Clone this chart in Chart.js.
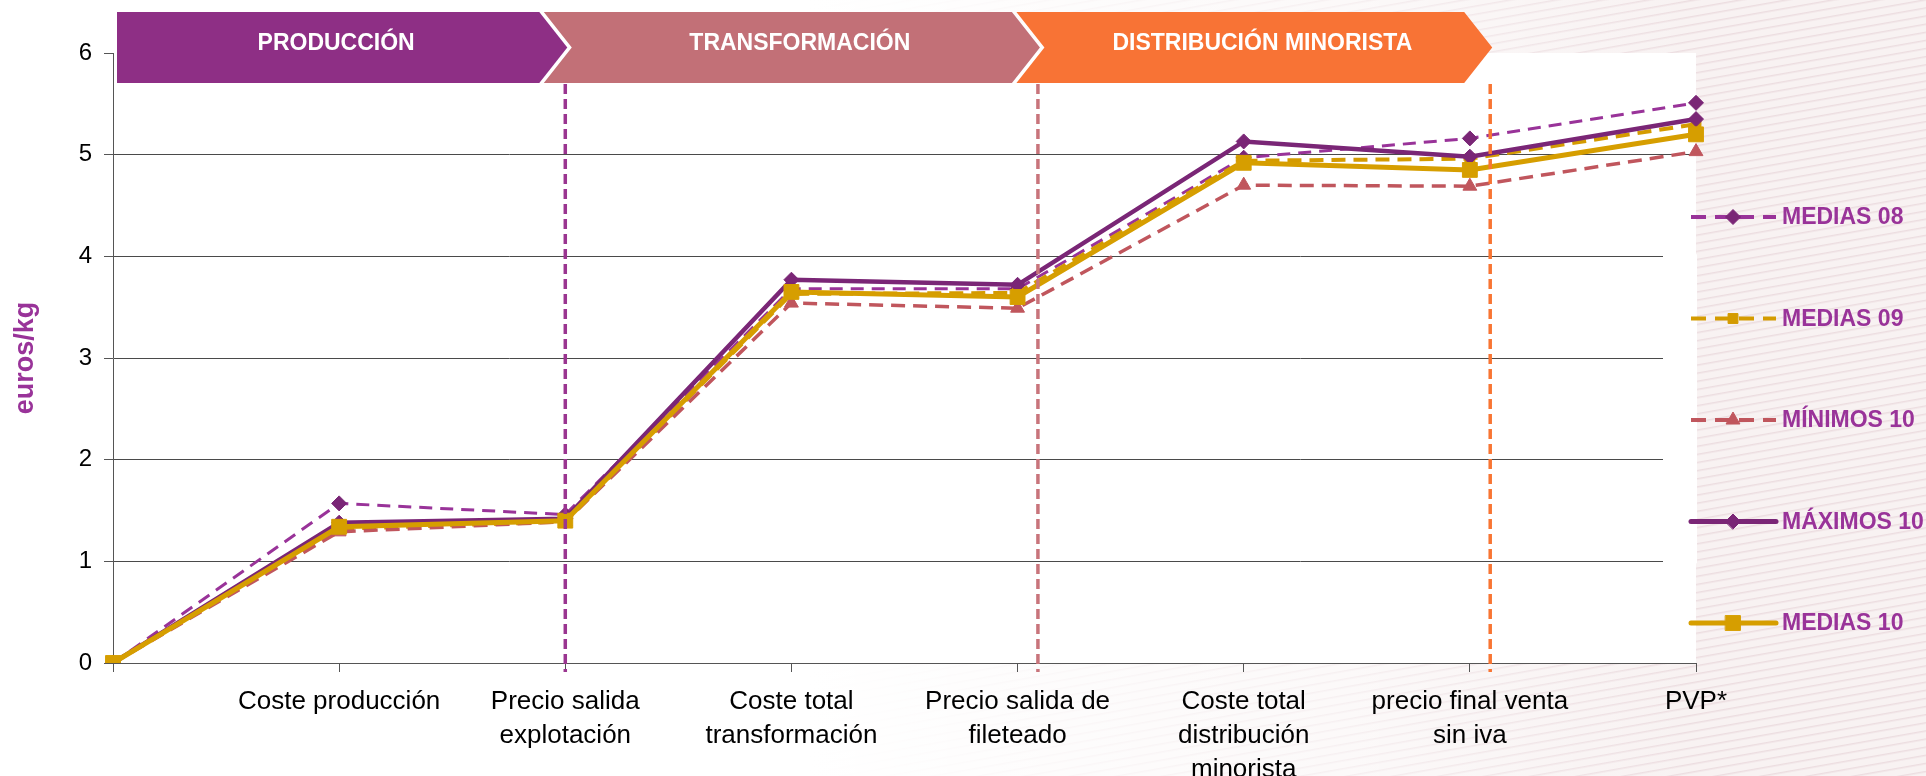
<!DOCTYPE html>
<html lang="es">
<head>
<meta charset="utf-8">
<title>Costes y precios - euros/kg</title>
<script src="https://cdn.jsdelivr.net/npm/chart.js@4.4.1/dist/chart.umd.min.js"></script>
<style>
  html, body { margin: 0; padding: 0; }
  body {
    width: 1926px;
    height: 776px;
    overflow: hidden;
    background:
      linear-gradient(90deg, #ffffff 0%, #ffffff 42%, rgba(255,255,255,0.55) 70%, rgba(255,255,255,0) 88%),
      repeating-linear-gradient(170deg, #f8f2f2 0px, #f8f2f2 5px, #ecdde0 6px, #f8f2f2 8px);
  }
  #contenedor { position: relative; width: 1926px; height: 776px; }
</style>
</head>
<body>
<div id="contenedor"><canvas id="grafico" width="1926" height="776"></canvas></div>
<script>
// Eslabones de la cadena (eje X)
const etiquetas = [
    '',
    'Coste producción',
    ['Precio salida', 'explotación'],
    ['Coste total', 'transformación'],
    ['Precio salida de', 'fileteado'],
    ['Coste total', 'distribución', 'minorista'],
    ['precio final venta', 'sin iva'],
    'PVP*'
];

// Series (euros/kg)
const medias08  = [0, 1.57, 1.46, 3.68, 3.68, 4.97, 5.16, 5.51];
const medias09  = [0, 1.32, 1.39, 3.63, 3.64, 4.94, 4.96, 5.30];
const minimos10 = [0, 1.29, 1.39, 3.54, 3.49, 4.70, 4.69, 5.03];
const maximos10 = [0, 1.38, 1.42, 3.77, 3.72, 5.13, 4.98, 5.35];
const medias10  = [0, 1.34, 1.40, 3.65, 3.60, 4.92, 4.85, 5.20];

const nombresSeries = ['MEDIAS 08', 'MEDIAS 09', 'MÍNIMOS 10', 'MÁXIMOS 10', 'MEDIAS 10'];

// Etapas de la cadena y donde terminan (posición en el eje de categorías)
const etapas = ['PRODUCCIÓN', 'TRANSFORMACIÓN', 'DISTRIBUCIÓN MINORISTA'];
const finEtapas = [2, 4.09, 6.09];
const coloresEtapas = ['#8e2f85', '#c27077', '#f87335'];
const coloresDivisores = ['#9a3590', '#c8747b', '#f87533'];

const FUENTE = '"Liberation Sans", Arial, Helvetica, sans-serif';
Chart.defaults.font.family = FUENTE;

const pluginEtapas = {
    id: 'etapas',
    beforeDraw(chart) {
        const { ctx, chartArea } = chart;
        ctx.save();
        ctx.fillStyle = '#ffffff';
        ctx.fillRect(chartArea.left, chartArea.top, chartArea.right - chartArea.left, chartArea.bottom - chartArea.top);
        ctx.restore();
    },
    beforeDatasetsDraw(chart) {
        // las lineas de division 1-4 no llegan al borde derecho
        const { ctx, chartArea, scales: { y } } = chart;
        const y4 = y.getPixelForValue(4);
        const y1 = y.getPixelForValue(1);
        ctx.save();
        ctx.fillStyle = '#ffffff';
        ctx.fillRect(chartArea.right - 33, y4 - 2, 34, y1 - y4 + 4);
        ctx.restore();
    },
    afterDatasetsDraw(chart) {
        const { ctx, chartArea, scales: { x } } = chart;
        finEtapas.forEach((v, i) => {
            const px = x.getPixelForValue(v);
            ctx.save();
            ctx.strokeStyle = coloresDivisores[i];
            ctx.lineWidth = 3.5;
            ctx.setLineDash([10, 5]);
            ctx.beginPath();
            ctx.moveTo(px, chartArea.top + 31);
            ctx.lineTo(px, chartArea.bottom + 9);
            ctx.stroke();
            ctx.restore();
        });
    },
    afterDraw(chart) {
        const { ctx, chartArea, scales: { x } } = chart;

        // cabecera con las etapas
        const top = chartArea.top - 41;
        const bottom = chartArea.top + 30;
        const mid = (top + bottom) / 2;
        const fondo = 28, hueco = 4.5;
        let puntaAnterior = null;
        etapas.forEach((nombre, i) => {
            const punta = x.getPixelForValue(finEtapas[i]) + 2;
            const izq = puntaAnterior === null ? chartArea.left + 4 : puntaAnterior - fondo + hueco;
            ctx.save();
            ctx.beginPath();
            ctx.moveTo(izq, top);
            ctx.lineTo(punta - fondo, top);
            ctx.lineTo(punta, mid);
            ctx.lineTo(punta - fondo, bottom);
            ctx.lineTo(izq, bottom);
            if (puntaAnterior !== null) ctx.lineTo(puntaAnterior + hueco, mid);
            ctx.closePath();
            ctx.fillStyle = coloresEtapas[i];
            ctx.fill();

            const inicio = puntaAnterior === null ? izq : puntaAnterior + hueco;
            ctx.fillStyle = '#ffffff';
            ctx.font = 'bold 23px ' + FUENTE;
            ctx.textAlign = 'center';
            ctx.textBaseline = 'middle';
            ctx.fillText(nombre, (inicio + punta) / 2 - 6, mid - 4);
            ctx.restore();
            puntaAnterior = punta;
        });

        // leyenda a la derecha
        chart.data.datasets.forEach((ds, i) => {
            const yl = chartArea.top + 164 + i * 101.5;
            const x0 = chartArea.right - 5;
            const x1 = chartArea.right + 80;
            const xm = chartArea.right + 37;
            ctx.save();
            ctx.strokeStyle = ds.borderColor;
            ctx.lineWidth = ds.borderDash ? 4 : 5;
            ctx.lineCap = ds.borderDash ? 'butt' : 'round';
            ctx.setLineDash(ds.borderDash ? [15, 9] : []);
            ctx.beginPath();
            ctx.moveTo(x0, yl);
            ctx.lineTo(x1, yl);
            ctx.stroke();
            ctx.setLineDash([]);
            ctx.fillStyle = ds.pointBackgroundColor;
            ctx.strokeStyle = ds.pointBorderColor;
            ctx.lineWidth = 1;
            Chart.helpers.drawPoint(ctx, {
                pointStyle: ds.pointStyle,
                radius: ds.pointRadius,
                rotation: 0,
                borderWidth: 1
            }, xm, yl);
            ctx.fillStyle = '#993399';
            ctx.font = 'bold 23px ' + FUENTE;
            ctx.textAlign = 'left';
            ctx.textBaseline = 'middle';
            ctx.fillText(ds.label, chartArea.right + 86, yl + 1);
            ctx.restore();
        });
    }
};

const ctx = document.getElementById('grafico').getContext('2d');
new Chart(ctx, {
    type: 'line',
    data: {
        labels: etiquetas,
        datasets: [
            {
                label: nombresSeries[0],
                data: medias08,
                borderColor: '#993399',
                borderWidth: 3,
                borderDash: [13, 8],
                pointStyle: 'rectRot',
                pointRadius: 7.5,
                pointBackgroundColor: '#7a2676',
                pointBorderColor: '#7a2676',
                pointBorderWidth: 1,
                order: 5
            },
            {
                label: nombresSeries[1],
                data: medias09,
                borderColor: '#d49b00',
                borderWidth: 4,
                borderDash: [14, 8],
                pointStyle: 'rect',
                pointRadius: 7,
                pointBackgroundColor: '#d49b00',
                pointBorderColor: '#d49b00',
                pointBorderWidth: 1,
                order: 4
            },
            {
                label: nombresSeries[2],
                data: minimos10,
                borderColor: '#c0565d',
                borderWidth: 3.5,
                borderDash: [14, 8],
                pointStyle: 'triangle',
                pointRadius: 8,
                pointBackgroundColor: '#c0565d',
                pointBorderColor: '#c0565d',
                pointBorderWidth: 1,
                order: 3
            },
            {
                label: nombresSeries[3],
                data: maximos10,
                borderColor: '#7a2676',
                borderWidth: 4.5,
                pointStyle: 'rectRot',
                pointRadius: 7.5,
                pointBackgroundColor: '#7a2676',
                pointBorderColor: '#7a2676',
                pointBorderWidth: 1,
                order: 2
            },
            {
                label: nombresSeries[4],
                data: medias10,
                borderColor: '#d69e00',
                borderWidth: 5,
                pointStyle: 'rect',
                pointRadius: 10.5,
                pointBackgroundColor: '#d69e00',
                pointBorderColor: '#d69e00',
                pointBorderWidth: 1,
                order: 1
            }
        ]
    },
    options: {
        responsive: false,
        animation: false,
        layout: { padding: { top: 53, right: 230, left: 0, bottom: 0 } },
        plugins: {
            legend: { display: false },
            tooltip: { enabled: false }
        },
        elements: { line: { tension: 0 } },
        scales: {
            x: {
                grid: { drawOnChartArea: false, drawTicks: true, tickLength: 9, color: '#555555' },
                border: { color: '#555555', width: 1 },
                ticks: {
                    color: '#000000',
                    font: { size: 26, lineHeight: 1.3 },
                    padding: 13,
                    maxRotation: 0,
                    minRotation: 0,
                    autoSkip: false
                },
                afterFit(scale) { scale.height = 113; }
            },
            y: {
                min: 0,
                max: 6,
                ticks: { stepSize: 1, color: '#000000', font: { size: 24 }, padding: 12 },
                grid: {
                    color: c => (c.tick.value === 0 || c.tick.value === 6) ? 'rgba(0,0,0,0)' : '#4a4a4a',
                    tickColor: '#555555',
                    tickLength: 9,
                    lineWidth: 1
                },
                border: { color: '#555555', width: 1 },
                title: {
                    display: true,
                    text: 'euros/kg',
                    color: '#993399',
                    font: { size: 27, weight: 'bold' },
                    padding: { top: 9, bottom: 0 }
                },
                afterFit(scale) { scale.width = 113; }
            }
        }
    },
    plugins: [pluginEtapas]
});
</script>
</body>
</html>
